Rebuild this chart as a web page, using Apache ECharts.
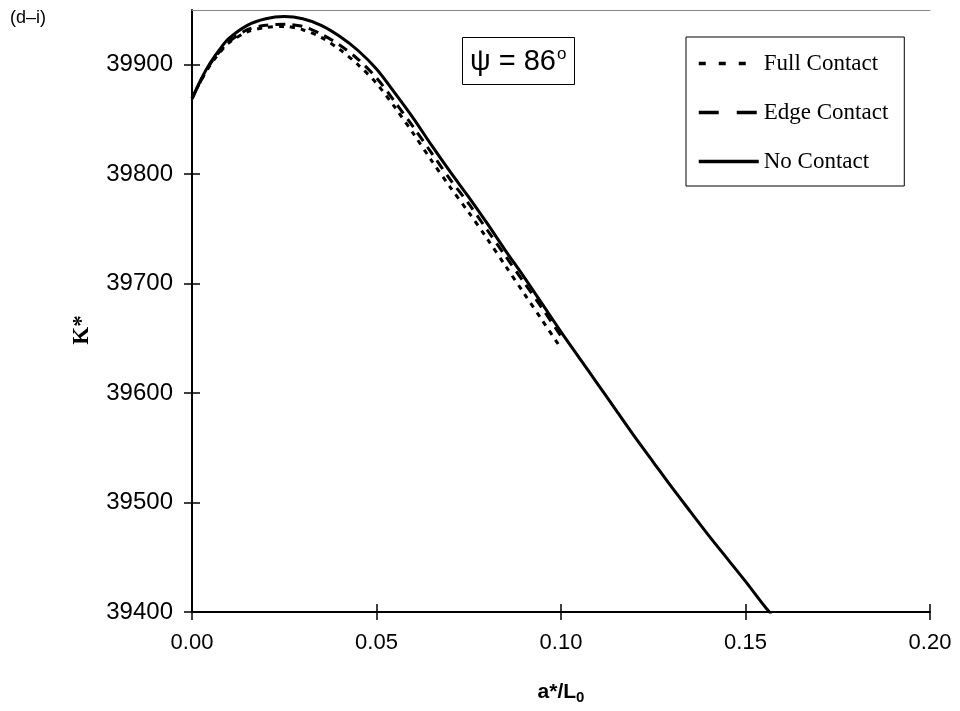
<!DOCTYPE html>
<html>
<head>
<meta charset="utf-8">
<script src="https://cdn.jsdelivr.net/npm/echarts@6/dist/echarts.min.js"></script>
<style>html,body{margin:0;padding:0;background:#fff}#c{width:960px;height:711px}</style>
</head>
<body>
<div id="c"></div>
<script>
// ---- data ----
const aNo = [0, 0.0025, 0.005, 0.0075, 0.01, 0.015, 0.02, 0.025, 0.03, 0.035, 0.04, 0.045, 0.05, 0.055, 0.06, 0.065, 0.07, 0.075, 0.08, 0.085, 0.09, 0.095, 0.10, 0.105, 0.11, 0.115, 0.12, 0.125, 0.13, 0.135, 0.14, 0.145, 0.15, 0.155, 0.157];
const kNo = [39869, 39887, 39902, 39914, 39924, 39936, 39942, 39944, 39942, 39936, 39926, 39913, 39896, 39874, 39851, 39826, 39802, 39779, 39755, 39730, 39706, 39681, 39656, 39632, 39608, 39584, 39560, 39537, 39514, 39492, 39470, 39449, 39428, 39406, 39398];
const aContact = [0, 0.0025, 0.005, 0.0075, 0.01, 0.015, 0.02, 0.025, 0.03, 0.035, 0.04, 0.045, 0.05, 0.055, 0.06, 0.065, 0.07, 0.075, 0.08, 0.085, 0.09, 0.095, 0.10];
const kFull = [39869, 39886, 39900, 39911, 39920, 39930, 39934, 39935, 39932, 39925, 39914, 39900, 39883, 39861, 39837, 39812, 39788, 39765, 39741, 39716, 39691, 39666, 39641];
const kEdge = [39869, 39886, 39901, 39912, 39921, 39932, 39936, 39937, 39935, 39928, 39918, 39905, 39888, 39866, 39843, 39819, 39795, 39773, 39749, 39725, 39701, 39677, 39652];
const xTicks = [0, 0.05, 0.10, 0.15, 0.20];
const yTicks = [39400, 39500, 39600, 39700, 39800, 39900];
const seriesNames = ['Full Contact', 'Edge Contact', 'No Contact'];

function pairs(xs, ys) { return xs.map((x, i) => [x, ys[i]]); }

const chart = echarts.init(document.getElementById('c'), null, {renderer: 'canvas'});
const axisCommonX = {type: 'value', min: 0, max: 0.20, interval: 0.05};
const axisCommonY = {type: 'value', min: 39400, max: 39950, interval: 50};
const black = '#000';
const hiddenSymbol = {color: 'rgba(0,0,0,0)', borderWidth: 0, opacity: 0};

chart.setOption({
  animation: false,
  backgroundColor: '#fff',
  grid: {left: 192, right: 30, top: 10, bottom: 99},
  title: {
    text: '{a|\u03c8 = 86}{s|o}',
    left: 462, top: 37,
    borderColor: '#000', borderWidth: 1,
    padding: [9, 8, 9, 8],
    textStyle: {
      fontWeight: 'normal',
      rich: {
        a: {fontFamily: 'Liberation Sans, Arial', fontWeight: 'normal', fontSize: 29, color: '#000', lineHeight: 29},
        s: {fontFamily: 'Liberation Sans, Arial', fontWeight: 'normal', fontSize: 17, color: '#000', padding: [0, 0, 14, 1]}
      }
    }
  },
  legend: {
    orient: 'vertical',
    left: 686, top: 37,
    borderColor: '#000', borderWidth: 1,
    padding: [15, 16, 13, 11],
    itemGap: 26,
    itemWidth: 60, itemHeight: 14,
    itemStyle: hiddenSymbol,
    textStyle: {fontFamily: 'Liberation Serif, Times New Roman', fontSize: 23, color: '#000'},
    data: [
      {name: seriesNames[0], itemStyle: hiddenSymbol, lineStyle: {type: [7, 13], width: 3.5, color: '#000'}},
      {name: seriesNames[1], itemStyle: hiddenSymbol, lineStyle: {type: [20, 18], width: 3.5, color: '#000'}},
      {name: seriesNames[2], itemStyle: hiddenSymbol, lineStyle: {type: 'solid', width: 3.5, color: '#000'}}
    ]
  },
  graphic: [
    {type: 'text', left: 10, top: 9, style: {text: '(d\u2013i)', fontFamily: 'Liberation Sans, Arial', fontSize: 18, fill: '#000'}}
  ],
  xAxis: [
    Object.assign({}, axisCommonX, {
      position: 'bottom',
      name: '{a|a*/L}{s|0}',
      nameLocation: 'middle', nameGap: 68,
      nameTextStyle: {rich: {
        a: {fontFamily: 'Liberation Sans, Arial', fontWeight: 'bold', fontSize: 21, color: '#000'},
        s: {fontFamily: 'Liberation Sans, Arial', fontWeight: 'bold', fontSize: 15, color: '#000', padding: [10, 0, 0, 0]}
      }},
      axisLine: {show: true, onZero: false, lineStyle: {color: black, width: 2}},
      axisTick: {show: true, inside: false, length: 8, lineStyle: {color: black, width: 1.5}, customValues: xTicks},
      axisLabel: {show: true, margin: 20, fontFamily: 'Liberation Sans, Arial', fontSize: 22, color: '#000',
        customValues: xTicks, formatter: v => v.toFixed(2)},
      splitLine: {show: false}
    }),
    Object.assign({}, axisCommonX, {
      position: 'bottom',
      axisLine: {show: false, onZero: false},
      axisTick: {show: true, inside: true, length: 8, lineStyle: {color: black, width: 1.5}, customValues: xTicks},
      axisLabel: {show: false},
      splitLine: {show: false}
    }),
    Object.assign({}, axisCommonX, {
      position: 'top',
      axisLine: {show: true, onZero: false, lineStyle: {color: '#888', width: 1}},
      axisTick: {show: false},
      axisLabel: {show: false},
      splitLine: {show: false}
    })
  ],
  yAxis: [
    Object.assign({}, axisCommonY, {
      position: 'left',
      name: 'K*',
      nameLocation: 'middle', nameGap: 98,
      nameTextStyle: {fontFamily: 'Liberation Serif, Times New Roman', fontWeight: 'bold', fontSize: 23, color: '#000', padding: [0, 38, 0, 0]},
      axisLine: {show: true, onZero: false, lineStyle: {color: black, width: 2}},
      axisTick: {show: true, inside: false, length: 8, lineStyle: {color: black, width: 1.5}, customValues: yTicks},
      axisLabel: {show: true, margin: 19, fontFamily: 'Liberation Sans, Arial', fontSize: 24, color: '#000',
        customValues: yTicks, formatter: v => String(Math.round(v))},
      splitLine: {show: false}
    }),
    Object.assign({}, axisCommonY, {
      position: 'left',
      axisLine: {show: false, onZero: false},
      axisTick: {show: true, inside: true, length: 8, lineStyle: {color: black, width: 1.5}, customValues: yTicks},
      axisLabel: {show: false},
      splitLine: {show: false}
    })
  ],
  series: [
    {name: seriesNames[0], type: 'line', xAxisIndex: 0, yAxisIndex: 0, data: pairs(aContact, kFull),
      symbol: 'none', smooth: 0.3, lineStyle: {color: '#000', width: 3, type: [5, 6]}, itemStyle: {color: '#000'}},
    {name: seriesNames[1], type: 'line', xAxisIndex: 0, yAxisIndex: 0, data: pairs(aContact, kEdge),
      symbol: 'none', smooth: 0.3, lineStyle: {color: '#000', width: 3, type: [10, 7]}, itemStyle: {color: '#000'}},
    {name: seriesNames[2], type: 'line', xAxisIndex: 0, yAxisIndex: 0, data: pairs(aNo, kNo),
      symbol: 'none', smooth: 0.3, lineStyle: {color: '#000', width: 3, type: 'solid'}, itemStyle: {color: '#000'}}
  ]
});
</script>
</body>
</html>
